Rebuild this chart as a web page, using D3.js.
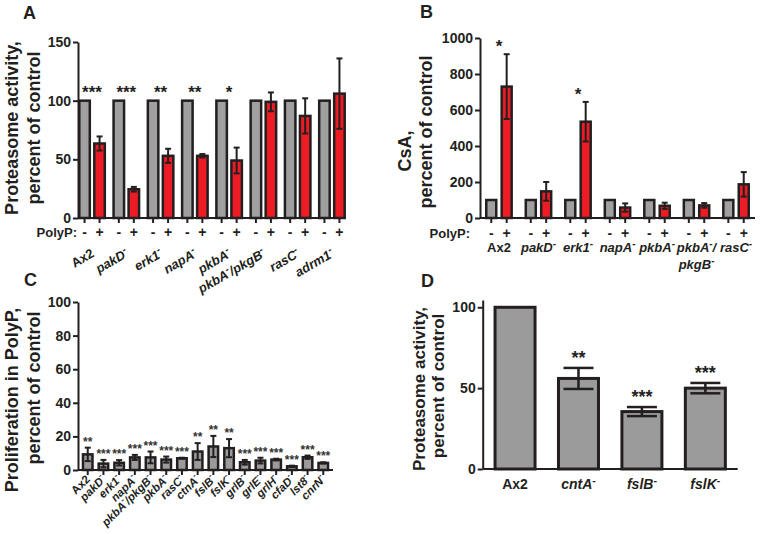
<!DOCTYPE html>
<html><head><meta charset="utf-8">
<script src="https://cdn.jsdelivr.net/npm/d3@7"></script>
<style>
html,body{margin:0;padding:0;background:#fff;}
svg{display:block;font-family:"Liberation Sans",Arial,sans-serif;font-weight:bold;}
</style></head>
<body>
<svg id="chart" width="760" height="534"></svg>
<script>
// ---------- Panel A data ----------
const aGroups = ["Ax2","pakD-","erk1-","napA-","pkbA-","pkbA-/pkgB-","rasC-","adrm1-"];
const aControl = [100,100,100,100,100,100,100,100];
const aPolyP = [63.5,24.5,53,53,49,99,87,106];
const aPolyPErr = [6,2,6,1.5,11,8,15,30];
const aStars = ["***","***","**","**","*","","",""];
const aTicks = [0,50,100,150];

// ---------- Panel B data ----------
const bGroups = ["Ax2","pakD-","erk1-","napA-","pkbA-","pkbA-/\npkgB-","rasC-"];
const bControl = [100,100,100,100,100,100,100];
const bPolyP = [730,148,535,58,68,70,187];
const bPolyPErr = [180,52,110,23,17,13,68];
const bStars = ["*","","*","","","",""];
const bTicks = [0,200,400,600,800,1000];

// ---------- Panel C data ----------
const cGroups = ["Ax2","pakD-","erk1-","napA-","pkbA-/pkgB-","pkbA-","rasC-","ctnA-","fslB-","fslK-","grlB-","grlE-","grlH-","cfaD-","lst8-","cnrN-"];
const cValues = [9.3,3.8,4.3,7.5,7.5,6.2,7,11,14,13,4.6,5.6,6.2,2.2,7.6,4.2];
const cErr = [4,2.2,1.6,1.5,3.5,1.8,0.3,5,6.3,5.4,1.4,1.7,0.5,0.4,1,0.4];
const cStars = ["**","***","***","***","***","***","***","**","**","**","***","***","***","***","***","***"];
const cTicks = [0,20,40,60,80,100];

// ---------- Panel D data ----------
const dGroups = ["Ax2","cntA-","fslB-","fslK-"];
const dValues = [100,56,35.5,50];
const dErr = [0,6.5,2.8,3.2];
const dStars = ["","**","***","***"];
const dTicks = [0,50,100];

const INK = "#231f20", GRAY = "#a0a0a0", RED = "#ed1c24";
const svg = d3.select("#chart");

function richText(sel, str) {
  const parts = str.split(/(-)/).filter(p => p !== "");
  let up = false;
  parts.forEach(p => {
    if (p === "-") {
      sel.append("tspan").attr("dy", up ? 0 : -5).attr("font-size", "0.75em").text("-");
      up = true;
    } else {
      const t = sel.append("tspan").text(p);
      if (up) { t.attr("dy", 5); up = false; }
    }
  });
}
const isItalic = s => s.indexOf("-") >= 0;

function yAxis(g, scale, x, ticks, fs) {
  const ax = g.append("g").attr("transform", `translate(${x},0)`)
    .call(d3.axisLeft(scale).tickValues(ticks).tickSize(5).tickSizeOuter(0).tickPadding(2).tickFormat(d3.format("d")));
  ax.select(".domain").attr("stroke", INK).attr("stroke-width", 2);
  ax.selectAll(".tick line").attr("stroke", INK).attr("stroke-width", 2);
  ax.selectAll(".tick text").attr("fill", INK).attr("font-size", fs).attr("font-weight", "bold")
    .attr("font-family", "Liberation Sans, Arial, sans-serif");
  return ax;
}
function yLabel(g, x, y, txt, fs) {
  g.append("text").attr("transform", `translate(${x},${y}) rotate(-90)`)
    .attr("text-anchor", "middle").attr("font-size", fs).attr("fill", INK).text(txt);
}
function errBar(g, x, y1, y2, cap, sw) {
  g.append("line").attr("x1", x).attr("x2", x).attr("y1", y1).attr("y2", y2).attr("stroke", INK).attr("stroke-width", sw);
  [y1, y2].forEach(yy => g.append("line").attr("x1", x - cap / 2).attr("x2", x + cap / 2)
    .attr("y1", yy).attr("y2", yy).attr("stroke", INK).attr("stroke-width", sw));
}
function bar(g, cx, w, y0, y1, fill, sw) {
  g.append("rect").attr("x", cx - w / 2).attr("y", y1).attr("width", w).attr("height", y0 - y1)
    .attr("fill", fill).attr("stroke", INK).attr("stroke-width", sw);
}

// ================= Panel A =================
(function () {
  const g = svg.append("g");
  const x = d3.scalePoint().domain(aGroups).range([78, 346]).padding(0.41);
  const y = d3.scaleLinear().domain([0, 150]).range([218, 42]);
  const off = 7.5, bw = 10.5;
  aGroups.forEach((k, i) => {
    const cx = x(k);
    bar(g, cx - off, bw, y(0), y(aControl[i]), GRAY, 2.5);
    bar(g, cx + off, bw, y(0), y(aPolyP[i]), RED, 2.5);
    errBar(g, cx + off, y(aPolyP[i] - aPolyPErr[i]), y(aPolyP[i] + aPolyPErr[i]), 6, 2);
    if (aStars[i]) g.append("text").attr("x", cx).attr("y", 98).attr("text-anchor", "middle")
      .attr("font-size", 17).attr("fill", INK).text(aStars[i]);
    [[-off, "-"], [off, "+"]].forEach(([o, s]) => {
      g.append("line").attr("x1", cx + o).attr("x2", cx + o).attr("y1", y(0)).attr("y2", y(0) + 5)
        .attr("stroke", INK).attr("stroke-width", 2);
      g.append("text").attr("x", cx + o).attr("y", 237).attr("text-anchor", "middle")
        .attr("font-size", 14).attr("fill", INK).text(s);
    });
    const t = g.append("text").attr("transform", `translate(${cx + 3},256) rotate(-30)`)
      .attr("text-anchor", "end").attr("font-size", 13).attr("fill", INK)
      .attr("font-style", isItalic(k) ? "italic" : "normal");
    richText(t, k);
  });
  g.append("line").attr("x1", 78).attr("x2", 346).attr("y1", y(0)).attr("y2", y(0)).attr("stroke", INK).attr("stroke-width", 2);
  yAxis(g, y, 78, aTicks, 14);
  g.append("text").attr("x", 77).attr("y", 237).attr("text-anchor", "end").attr("font-size", 13).attr("fill", INK).text("PolyP:");
  yLabel(g, 18, 128, "Proteasome activity,", 18);
  yLabel(g, 40, 128, "percent of control", 18);
  g.append("text").attr("x", 23).attr("y", 19).attr("font-size", 18).attr("fill", INK).text("A");
})();

// ================= Panel B =================
(function () {
  const g = svg.append("g");
  const x = d3.scalePoint().domain(bGroups).range([480, 755]).padding(0.48);
  const y = d3.scaleLinear().domain([0, 1000]).range([218, 38]);
  const off = 7.7, bw = 10;
  bGroups.forEach((k, i) => {
    const cx = x(k);
    bar(g, cx - off, bw, y(0), y(bControl[i]), GRAY, 2.5);
    bar(g, cx + off, bw, y(0), y(bPolyP[i]), RED, 2.5);
    errBar(g, cx + off, y(bPolyP[i] - bPolyPErr[i]), y(bPolyP[i] + bPolyPErr[i]), 6, 2);
    if (bStars[i]) g.append("text").attr("x", cx).attr("y", y(bPolyP[i] + bPolyPErr[i]) - 2).attr("text-anchor", "middle")
      .attr("font-size", 17).attr("fill", INK).text(bStars[i]);
    [[-off, "-"], [off, "+"]].forEach(([o, s]) => {
      g.append("line").attr("x1", cx + o).attr("x2", cx + o).attr("y1", y(0)).attr("y2", y(0) + 5)
        .attr("stroke", INK).attr("stroke-width", 2);
      g.append("text").attr("x", cx + o).attr("y", 238).attr("text-anchor", "middle")
        .attr("font-size", 14).attr("fill", INK).text(s);
    });
    k.split("\n").forEach((line, li) => {
      const t = g.append("text").attr("x", cx).attr("y", 252 + li * 17).attr("text-anchor", "middle")
        .attr("font-size", 13).attr("fill", INK).attr("font-style", isItalic(k) ? "italic" : "normal");
      richText(t, line);
    });
  });
  g.append("line").attr("x1", 480).attr("x2", 755).attr("y1", y(0)).attr("y2", y(0)).attr("stroke", INK).attr("stroke-width", 2);
  yAxis(g, y, 480, bTicks, 14);
  g.append("text").attr("x", 470).attr("y", 238).attr("text-anchor", "end").attr("font-size", 13).attr("fill", INK).text("PolyP:");
  yLabel(g, 411, 151, "CsA,", 18);
  yLabel(g, 432, 132, "percent of control", 18);
  g.append("text").attr("x", 420).attr("y", 18).attr("font-size", 18).attr("fill", INK).text("B");
})();

// ================= Panel C =================
(function () {
  const g = svg.append("g");
  const x = d3.scalePoint().domain(cGroups).range([78, 333]).padding(0.62);
  const y = d3.scaleLinear().domain([0, 100]).range([470, 302]);
  const bw = 9.5;
  cGroups.forEach((k, i) => {
    const cx = x(k);
    bar(g, cx, bw, y(0), y(cValues[i]), "#9b9b9b", 2.5);
    errBar(g, cx, y(cValues[i] - cErr[i]), y(cValues[i] + cErr[i]), 6, 2);
    g.append("text").attr("x", cx).attr("y", y(cValues[i] + cErr[i]) - 2).attr("text-anchor", "middle")
      .attr("font-size", 12).attr("fill", "#333").text(cStars[i]);
    g.append("line").attr("x1", cx).attr("x2", cx).attr("y1", y(0)).attr("y2", y(0) + 5)
      .attr("stroke", INK).attr("stroke-width", 2);
    const t = g.append("text").attr("transform", `translate(${cx + 3},480) rotate(-45)`)
      .attr("text-anchor", "end").attr("font-size", 11.5).attr("fill", INK)
      .attr("font-style", isItalic(k) ? "italic" : "normal");
    richText(t, k);
  });
  g.append("line").attr("x1", 78).attr("x2", 333).attr("y1", y(0)).attr("y2", y(0)).attr("stroke", INK).attr("stroke-width", 2);
  yAxis(g, y, 78, cTicks, 14);
  yLabel(g, 18, 400, "Proliferation in PolyP,", 18);
  yLabel(g, 40, 388, "percent of control", 18);
  g.append("text").attr("x", 24).attr("y", 286).attr("font-size", 18).attr("fill", INK).text("C");
})();

// ================= Panel D =================
(function () {
  const g = svg.append("g");
  const x = d3.scalePoint().domain(dGroups).range([482.7, 737.7]).padding(0.51);
  const y = d3.scaleLinear().domain([0, 104.5]).range([469, 300]);
  const bw = 40;
  dGroups.forEach((k, i) => {
    const cx = x(k);
    bar(g, cx, bw, y(0), y(dValues[i]), "#9b9b9b", 3);
    if (dErr[i] > 0) errBar(g, cx, y(dValues[i] - dErr[i]), y(dValues[i] + dErr[i]), 30, 2.5);
    if (dStars[i]) g.append("text").attr("x", cx).attr("y", y(dValues[i] + dErr[i]) - 4).attr("text-anchor", "middle")
      .attr("font-size", 18).attr("fill", INK).text(dStars[i]);
    const t = g.append("text").attr("x", cx).attr("y", 489).attr("text-anchor", "middle")
      .attr("font-size", 14).attr("fill", INK).attr("font-style", isItalic(k) ? "italic" : "normal");
    richText(t, k);
  });
  g.append("line").attr("x1", 482.7).attr("x2", 737.7).attr("y1", y(0)).attr("y2", y(0)).attr("stroke", INK).attr("stroke-width", 2);
  yAxis(g, y, 482.7, dTicks, 14);
  yLabel(g, 425, 389, "Proteasome activity,", 17);
  yLabel(g, 444, 386, "percent of control", 17);
  g.append("text").attr("x", 421).attr("y", 287).attr("font-size", 18).attr("fill", INK).text("D");
})();
</script>
</body></html>
